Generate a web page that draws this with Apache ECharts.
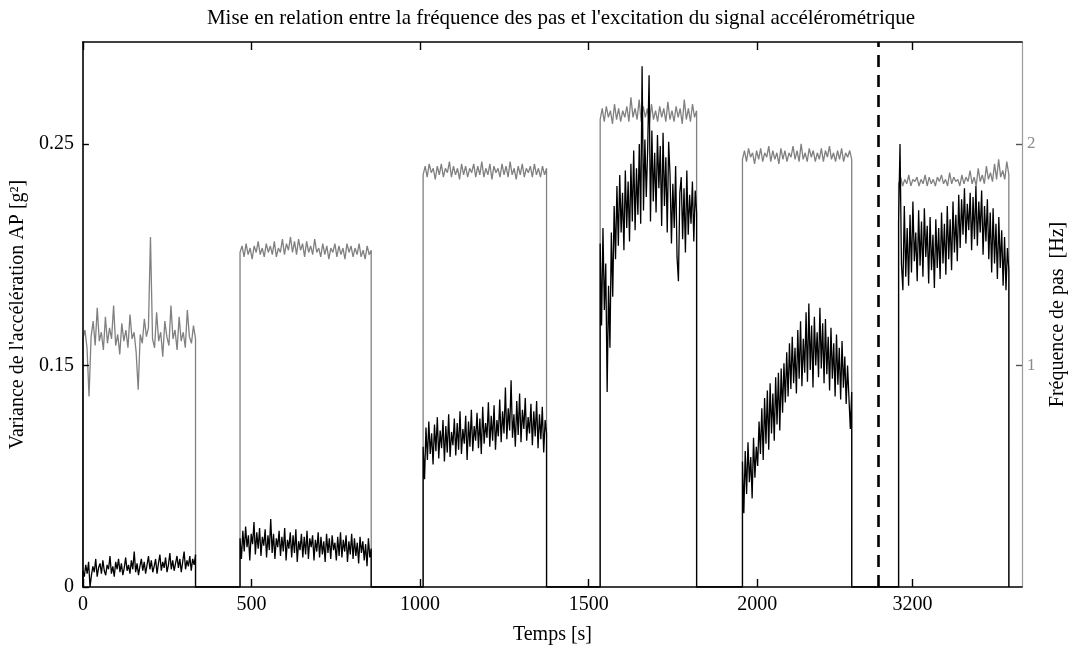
<!DOCTYPE html>
<html>
<head>
<meta charset="utf-8">
<title>Fréquence des pas et variance AP</title>
<script src="https://cdn.jsdelivr.net/npm/echarts@6/dist/echarts.min.js"></script>
<style>
  html, body { margin: 0; padding: 0; background: #fff; }
  #chart { width: 1076px; height: 650px; }
</style>
</head>
<body>
<div id="chart"></div>
<script>
// Walking bouts: start and end time of each bout, in seconds
const segBounds = [[0, 334], [466, 855], [1009, 1375], [1534, 1820], [1956, 2280], [3159, 3486]];

// The time axis skips the idle stretch marked by the dashed line
const breakAt = 2360;
const breakShift = 740;

// Time axis ticks (seconds)
const xTicks = [0, 500, 1000, 1500, 2000, 3200];

// Left axis tick labels (variance, g²) and right axis ticks (Hz)
const leftTickLabels = [0, 0.15, 0.25];
const rightTicks = [1, 2];

// Step frequency per bout [Hz], evenly sampled over each bout
const freq1 = [1.12, 1.16, 1.08, 0.86, 1.13, 1.20, 1.09, 1.26, 1.11, 1.15, 1.07, 1.22, 1.10, 1.17, 1.12, 1.27, 1.09, 1.14, 1.05, 1.19, 1.11, 1.16, 1.08, 1.23, 1.12, 1.15, 1.06, 0.89, 1.14, 1.10, 1.21, 1.13, 1.17, 1.58, 1.12, 1.08, 1.24, 1.11, 1.15, 1.04, 1.20, 1.13, 1.09, 1.27, 1.12, 1.16, 1.07, 1.22, 1.11, 1.15, 1.08, 1.25, 1.13, 1.10, 1.18, 1.12];
const freq2 = [1.51, 1.54, 1.49, 1.55, 1.50, 1.53, 1.48, 1.54, 1.51, 1.56, 1.50, 1.53, 1.49, 1.55, 1.51, 1.54, 1.50, 1.56, 1.49, 1.53, 1.51, 1.57, 1.50, 1.55, 1.52, 1.58, 1.51, 1.56, 1.50, 1.57, 1.52, 1.55, 1.49, 1.56, 1.51, 1.54, 1.50, 1.57, 1.51, 1.53, 1.49, 1.55, 1.50, 1.54, 1.48, 1.53, 1.51, 1.55, 1.49, 1.54, 1.50, 1.53, 1.48, 1.55, 1.51, 1.54, 1.49, 1.53, 1.50, 1.55, 1.49, 1.52, 1.48, 1.54, 1.50, 1.52];
const freq3 = [1.86, 1.90, 1.85, 1.91, 1.87, 1.89, 1.84, 1.90, 1.86, 1.91, 1.85, 1.89, 1.87, 1.92, 1.85, 1.90, 1.86, 1.89, 1.84, 1.91, 1.86, 1.90, 1.85, 1.89, 1.87, 1.91, 1.85, 1.90, 1.86, 1.92, 1.85, 1.89, 1.86, 1.91, 1.84, 1.90, 1.87, 1.89, 1.85, 1.91, 1.86, 1.90, 1.85, 1.92, 1.86, 1.89, 1.84, 1.90, 1.86, 1.91, 1.85, 1.89, 1.87, 1.90, 1.85, 1.91, 1.86, 1.89, 1.85, 1.90, 1.86, 1.89];
const freq4 = [2.11, 2.16, 2.10, 2.17, 2.12, 2.15, 2.09, 2.18, 2.11, 2.16, 2.10, 2.15, 2.12, 2.17, 2.10, 2.21, 2.12, 2.16, 2.11, 2.20, 2.10, 2.17, 2.12, 2.16, 2.09, 2.18, 2.11, 2.15, 2.10, 2.17, 2.12, 2.16, 2.10, 2.19, 2.11, 2.15, 2.10, 2.17, 2.12, 2.16, 2.09, 2.20, 2.11, 2.16, 2.10, 2.18, 2.12, 2.15];
const freq5 = [1.93, 1.97, 1.92, 1.98, 1.94, 1.96, 1.91, 1.97, 1.93, 1.98, 1.92, 1.96, 1.94, 1.99, 1.92, 1.97, 1.93, 1.96, 1.91, 1.98, 1.93, 1.97, 1.92, 1.96, 1.94, 1.99, 1.93, 1.97, 1.92, 2.00, 1.93, 1.96, 1.92, 1.98, 1.94, 1.97, 1.92, 1.96, 1.93, 1.98, 1.92, 1.97, 1.94, 1.99, 1.93, 1.96, 1.92, 1.97, 1.93, 1.98, 1.92, 1.96, 1.94, 1.97, 1.93];
const freq6 = [1.82, 1.85, 1.81, 1.84, 1.82, 1.86, 1.81, 1.84, 1.83, 1.85, 1.81, 1.84, 1.82, 1.86, 1.81, 1.85, 1.82, 1.84, 1.81, 1.85, 1.83, 1.86, 1.82, 1.84, 1.81, 1.87, 1.82, 1.85, 1.83, 1.84, 1.81, 1.86, 1.82, 1.85, 1.83, 1.88, 1.82, 1.85, 1.81, 1.89, 1.83, 1.86, 1.82, 1.90, 1.84, 1.87, 1.83, 1.91, 1.84, 1.93, 1.85, 1.88, 1.84, 1.92, 1.86];

// Variance of the antero-posterior acceleration per bout [g²]
const var1 = [0.011, 0.007, 0.015, 0.009, 0.017, 0.000, 0.008, 0.014, 0.010, 0.019, 0.007, 0.013, 0.016, 0.009, 0.018, 0.011, 0.008, 0.015, 0.012, 0.021, 0.009, 0.014, 0.007, 0.017, 0.012, 0.019, 0.010, 0.016, 0.008, 0.013, 0.020, 0.011, 0.015, 0.009, 0.018, 0.012, 0.024, 0.010, 0.016, 0.008, 0.014, 0.019, 0.011, 0.017, 0.009, 0.015, 0.021, 0.012, 0.018, 0.010, 0.014, 0.019, 0.009, 0.016, 0.022, 0.011, 0.017, 0.013, 0.020, 0.010, 0.015, 0.023, 0.012, 0.018, 0.011, 0.016, 0.021, 0.013, 0.019, 0.010, 0.017, 0.024, 0.012, 0.018, 0.014, 0.021, 0.011, 0.019, 0.015, 0.022];
const var2 = [0.033, 0.019, 0.038, 0.024, 0.041, 0.027, 0.035, 0.018, 0.036, 0.029, 0.044, 0.022, 0.037, 0.026, 0.040, 0.021, 0.034, 0.028, 0.039, 0.020, 0.035, 0.025, 0.046, 0.023, 0.036, 0.019, 0.033, 0.027, 0.038, 0.021, 0.034, 0.024, 0.040, 0.018, 0.032, 0.026, 0.037, 0.020, 0.035, 0.023, 0.039, 0.017, 0.031, 0.025, 0.036, 0.020, 0.034, 0.022, 0.038, 0.019, 0.033, 0.027, 0.035, 0.018, 0.032, 0.024, 0.037, 0.020, 0.034, 0.022, 0.031, 0.017, 0.036, 0.023, 0.033, 0.019, 0.035, 0.025, 0.030, 0.018, 0.034, 0.021, 0.037, 0.020, 0.032, 0.024, 0.035, 0.017, 0.031, 0.022, 0.036, 0.019, 0.033, 0.021, 0.030, 0.016, 0.034, 0.023, 0.031, 0.018, 0.029, 0.014, 0.033, 0.020, 0.026];
const var3 = [0.095, 0.073, 0.108, 0.086, 0.112, 0.090, 0.104, 0.083, 0.110, 0.092, 0.115, 0.087, 0.106, 0.094, 0.113, 0.085, 0.109, 0.091, 0.117, 0.088, 0.105, 0.096, 0.114, 0.089, 0.111, 0.093, 0.119, 0.090, 0.107, 0.097, 0.116, 0.086, 0.112, 0.095, 0.120, 0.092, 0.109, 0.099, 0.118, 0.094, 0.114, 0.090, 0.122, 0.097, 0.111, 0.101, 0.125, 0.095, 0.116, 0.099, 0.123, 0.093, 0.113, 0.102, 0.127, 0.098, 0.119, 0.104, 0.135, 0.100, 0.121, 0.106, 0.140, 0.101, 0.117, 0.095, 0.126, 0.103, 0.131, 0.098, 0.120, 0.107, 0.128, 0.099, 0.115, 0.104, 0.124, 0.096, 0.119, 0.102, 0.126, 0.094, 0.117, 0.100, 0.122, 0.091, 0.113, 0.104];
const var4 = [0.205, 0.168, 0.212, 0.175, 0.196, 0.132, 0.186, 0.158, 0.210, 0.181, 0.222, 0.198, 0.231, 0.204, 0.236, 0.210, 0.228, 0.202, 0.238, 0.212, 0.233, 0.206, 0.241, 0.215, 0.247, 0.211, 0.239, 0.218, 0.250, 0.214, 0.285, 0.220, 0.252, 0.226, 0.248, 0.281, 0.215, 0.256, 0.224, 0.246, 0.219, 0.254, 0.230, 0.249, 0.213, 0.255, 0.222, 0.244, 0.210, 0.251, 0.236, 0.205, 0.232, 0.212, 0.240, 0.199, 0.188, 0.228, 0.235, 0.207, 0.230, 0.201, 0.238, 0.209, 0.227, 0.214, 0.233, 0.206, 0.229, 0.219];
const var5 = [0.085, 0.050, 0.092, 0.063, 0.098, 0.071, 0.088, 0.060, 0.101, 0.074, 0.095, 0.082, 0.112, 0.090, 0.121, 0.086, 0.128, 0.097, 0.133, 0.093, 0.138, 0.104, 0.131, 0.099, 0.142, 0.110, 0.145, 0.106, 0.148, 0.118, 0.151, 0.125, 0.156, 0.129, 0.160, 0.134, 0.163, 0.138, 0.158, 0.131, 0.166, 0.141, 0.170, 0.136, 0.162, 0.145, 0.174, 0.139, 0.178, 0.147, 0.168, 0.135, 0.172, 0.150, 0.165, 0.142, 0.176, 0.148, 0.169, 0.138, 0.171, 0.144, 0.163, 0.133, 0.167, 0.141, 0.160, 0.129, 0.164, 0.137, 0.158, 0.127, 0.161, 0.135, 0.154, 0.124, 0.150, 0.128, 0.107, 0.132];
const var6 = [0.215, 0.250, 0.196, 0.184, 0.222, 0.190, 0.212, 0.186, 0.218, 0.192, 0.224, 0.197, 0.210, 0.188, 0.220, 0.195, 0.215, 0.190, 0.221, 0.199, 0.213, 0.187, 0.217, 0.193, 0.209, 0.185, 0.216, 0.194, 0.212, 0.189, 0.219, 0.196, 0.214, 0.191, 0.222, 0.198, 0.216, 0.193, 0.224, 0.201, 0.218, 0.197, 0.227, 0.203, 0.225, 0.209, 0.230, 0.205, 0.223, 0.211, 0.228, 0.202, 0.226, 0.207, 0.231, 0.204, 0.224, 0.210, 0.229, 0.200, 0.222, 0.206, 0.225, 0.198, 0.219, 0.192, 0.221, 0.196, 0.214, 0.189, 0.217, 0.194, 0.211, 0.186, 0.208, 0.184, 0.203, 0.193];

const freqBouts = [freq1, freq2, freq3, freq4, freq5, freq6];
const varBouts = [var1, var2, var3, var4, var5, var6];

// Position on the shortened time axis
function toDisplay(t) { return t > breakAt ? t - breakShift : t; }

// Left labels sit at the same heights as the right ticks 0, 1, 2:
// variance is placed piecewise-linearly between those labels.
function varToUnit(v) {
  const L = leftTickLabels;
  for (let i = 1; i < L.length; i++) {
    if (v <= L[i] || i === L.length - 1) {
      return (i - 1) + (v - L[i - 1]) / (L[i] - L[i - 1]);
    }
  }
  return 0;
}

// Square-wave style trace: zero between bouts, samples inside each bout
function trace(bouts, mapY) {
  const pts = [];
  segBounds.forEach(([a, b], i) => {
    const vals = bouts[i];
    pts.push([toDisplay(a), 0]);
    vals.forEach((v, k) => {
      const t = a + (b - a) * k / (vals.length - 1);
      pts.push([toDisplay(t), mapY(v)]);
    });
    pts.push([toDisplay(b), 0]);
  });
  return pts;
}

const axisMax = 2785;
const yMax = 2.46;
const xTickPos = xTicks.map(toDisplay);
const serif = 'Liberation Serif';

const chart = echarts.init(document.getElementById('chart'), null, { renderer: 'canvas' });
chart.setOption({
  animation: false,
  backgroundColor: '#fff',
  title: {
    text: "Mise en relation entre la fréquence des pas et l'excitation du signal accélérométrique",
    left: 556, top: 3, textAlign: 'center',
    textStyle: { fontFamily: serif, fontSize: 21, fontWeight: 'normal', color: '#000' }
  },
  grid: { left: 82, right: 50, top: 42, bottom: 61 },
  xAxis: [{
    type: 'value', min: 0, max: axisMax, position: 'bottom', z: 5,
    name: 'Temps [s]', nameLocation: 'middle', nameGap: 38,
    nameTextStyle: { fontFamily: serif, fontSize: 20, color: '#000' },
    axisLine: { show: true, onZero: false, lineStyle: { color: '#000', width: 1.6 } },
    axisTick: { show: true, inside: true, length: 8, customValues: xTickPos, lineStyle: { color: '#000', width: 1.4 } },
    axisLabel: {
      customValues: xTickPos, margin: 8,
      fontFamily: serif, fontSize: 20, color: '#000',
      formatter: v => String(xTicks[xTickPos.indexOf(v)])
    },
    splitLine: { show: false }
  }, {
    type: 'value', min: 0, max: axisMax, position: 'top', z: 5,
    axisLine: { show: true, onZero: false, lineStyle: { color: '#000', width: 1.6 } },
    axisTick: { show: true, inside: true, length: 8, customValues: xTickPos, lineStyle: { color: '#000', width: 1.4 } },
    axisLabel: { show: false },
    splitLine: { show: false }
  }],
  yAxis: [{
    type: 'value', min: 0, max: yMax, position: 'left', z: 5,
    name: "Variance de l'accélération AP [g²]", nameLocation: 'middle', nameGap: 52,
    nameTextStyle: { fontFamily: serif, fontSize: 20, color: '#000' },
    axisLine: { show: true, onZero: false, lineStyle: { color: '#000', width: 1.6 } },
    axisTick: { show: true, inside: true, length: 6, customValues: [0, 1, 2], lineStyle: { color: '#000', width: 1.4 } },
    axisLabel: {
      customValues: [0, 1, 2], margin: 9,
      fontFamily: serif, fontSize: 20, color: '#000',
      formatter: v => String(leftTickLabels[Math.round(v)])
    },
    splitLine: { show: false }
  }, {
    type: 'value', min: 0, max: yMax, position: 'right', z: 5,
    name: 'Fréquence de pas  [Hz]', nameLocation: 'middle', nameGap: 26,
    nameTextStyle: { fontFamily: serif, fontSize: 20, color: '#000' },
    axisLine: { show: true, onZero: false, lineStyle: { color: '#9a9a9a', width: 1.2 } },
    axisTick: { show: true, inside: true, length: 6, customValues: rightTicks, lineStyle: { color: '#555', width: 1.4 } },
    axisLabel: {
      customValues: rightTicks, margin: 5,
      fontFamily: serif, fontSize: 17, color: '#8a8a8a'
    },
    splitLine: { show: false }
  }],
  series: [{
    name: 'Fréquence de pas',
    type: 'line', yAxisIndex: 1, xAxisIndex: 0,
    showSymbol: false, symbol: 'none', z: 2,
    lineStyle: { color: '#808080', width: 1.3 },
    data: trace(freqBouts, v => v)
  }, {
    name: 'Variance AP',
    type: 'line', yAxisIndex: 0, xAxisIndex: 0,
    showSymbol: false, symbol: 'none', z: 3,
    lineStyle: { color: '#000', width: 1.3 },
    data: trace(varBouts, varToUnit),
    markLine: {
      silent: true, symbol: ['none', 'none'],
      label: { show: false },
      lineStyle: { color: '#000', width: 2.6, type: [12, 8] },
      data: [{ xAxis: breakAt }]
    }
  }]
});
</script>
</body>
</html>
